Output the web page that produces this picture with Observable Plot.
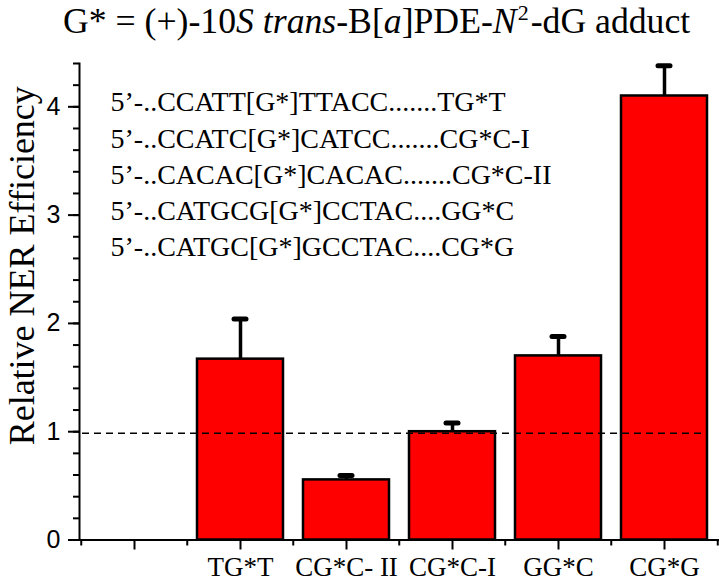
<!DOCTYPE html>
<html>
<head>
<meta charset="utf-8">
<script src="https://cdn.jsdelivr.net/npm/d3@7"></script>
<script src="https://cdn.jsdelivr.net/npm/@observablehq/plot@0.6"></script>
<style>
  body { margin: 0; background: #fff; }
  #wrap { position: relative; width: 719px; height: 581px; overflow: hidden; background: #fff; }
  #title { display: block; }
</style>
</head>
<body>
<div id="wrap">
  <svg id="title" width="719" height="50"></svg>
  <div id="chart"></div>
</div>
<script>
// ---- data ----
const categories = ["", "TG*T", "CG*C- II", "CG*C-I", "GG*C", "CG*G"];
const values = [null, 1.67, 0.555, 1.0, 1.70, 4.10];
const errors = [null, 0.37, 0.04, 0.08, 0.18, 0.28];
const referenceLevel = 0.985;
const yMajorTicks = [0, 1, 2, 3, 4];
const yMinorTicks = [0, 0.2, 0.4, 0.6, 0.8, 1, 1.2, 1.4, 1.6, 1.8, 2, 2.2, 2.4, 2.6, 2.8, 3, 3.2, 3.4, 3.6, 3.8, 4, 4.2, 4.4];
const sequences = [
  "5\u2019-..CCATT[G*]TTACC.......TG*T",
  "5\u2019-..CCATC[G*]CATCC.......CG*C-I",
  "5\u2019-..CACAC[G*]CACAC.......CG*C-II",
  "5\u2019-..CATGCG[G*]CCTAC....GG*C",
  "5\u2019-..CATGC[G*]GCCTAC....CG*G"
];
const yLabel = "Relative NER Efficiency";
// title pieces: [text, italic, superscript]
const titleParts = [
  ["G* = (+)-10", false, false], ["S", true, false], [" ", false, false],
  ["trans", true, false], ["-B[", false, false], ["a", true, false],
  ["]PDE-", false, false], ["N", true, false], ["2", false, true],
  ["-dG adduct", false, false]
];

const serif = "Liberation Serif, Times New Roman, serif";
const sans = "Liberation Sans, Arial, sans-serif";

// ---- title ----
const tsvg = d3.select("#title");
const ttext = tsvg.append("text")
  .attr("x", 63).attr("y", 33)
  .attr("font-family", serif).attr("font-size", 35.7).attr("fill", "black")
  .attr("xml:space", "preserve").style("white-space", "pre");
let prevSup = false;
titleParts.forEach(([t, it, sup]) => {
  const ts = ttext.append("tspan").text(t);
  if (it) ts.attr("font-style", "italic");
  if (sup) ts.attr("font-size", 22).attr("dy", -13).attr("dx", 1);
  else if (prevSup) ts.attr("dy", 13).attr("dx", 2);
  prevSup = sup;
});

// ---- table ----
const rows = categories
  .map((c, i) => ({ category: c, value: values[i], error: errors[i] }))
  .filter(d => d.value != null);

const W = 719, H = 531, mL = 79, mR = 1, mT = 13, mB = 41.5;
const step = (W - mL - mR) / categories.length;

const plot = Plot.plot({
  width: W,
  height: H,
  marginLeft: mL,
  marginRight: mR,
  marginTop: mT,
  marginBottom: mB,
  style: { background: "white", color: "black", fontFamily: serif, overflow: "visible" },
  x: { domain: categories, paddingInner: 0.19, paddingOuter: 0.095, label: null },
  y: { domain: [0, 4.4], label: null },
  marks: [
    Plot.barY(rows, { x: "category", y: "value", fill: "#ff0000", stroke: "black", strokeWidth: 2.5 }),
    Plot.ruleX(rows, { x: "category", y1: "value", y2: d => d.value + d.error, stroke: "black", strokeWidth: 3.5 }),
    Plot.tickY(rows, { x: "category", y: d => d.value + d.error, stroke: "black", strokeWidth: 5, strokeLinecap: "round", insetLeft: 37, insetRight: 37 }),
    Plot.ruleY([referenceLevel], { stroke: "black", strokeWidth: 1.5, strokeDasharray: "7,5", insetLeft: 3, insetRight: 15 }),
    Plot.text([sequences.join("\n")], {
      frameAnchor: "top-left", dx: 31, dy: 22, lineAnchor: "top", textAnchor: "start",
      lineHeight: 1.295, fontSize: 28, fontFamily: serif, fill: "black"
    }),
    Plot.text([yLabel], {
      frameAnchor: "left", rotate: -90, dx: -46, dy: -36, textAnchor: "middle", lineAnchor: "bottom",
      fontSize: 36, fontFamily: serif, fill: "black"
    }),
    Plot.axisY(yMinorTicks, { tickSize: 6, strokeWidth: 2, tickFormat: () => "" }),
    Plot.axisY(yMajorTicks, { tickSize: 11, strokeWidth: 2, tickFormat: () => "" }),
    Plot.text(yMajorTicks, {
      frameAnchor: "left", y: d => d, text: d => String(d), dx: -19, textAnchor: "end",
      lineAnchor: "middle", fontSize: 25, fontFamily: sans, fill: "black"
    }),
    Plot.axisX(categories, { tickSize: 10, tickPadding: 7, strokeWidth: 2, fontSize: 27, fontFamily: serif }),
    Plot.axisX(categories, { tickSize: 6, strokeWidth: 2, dx: -step / 2, tickFormat: () => "" }),
    Plot.axisX(categories.slice(-1), { tickSize: 6, strokeWidth: 2, dx: step / 2, tickFormat: () => "" }),
    Plot.frame({ anchor: "left", strokeWidth: 2 }),
    Plot.frame({ anchor: "bottom", strokeWidth: 2 })
  ]
});
document.getElementById("chart").appendChild(plot);
</script>
</body>
</html>
